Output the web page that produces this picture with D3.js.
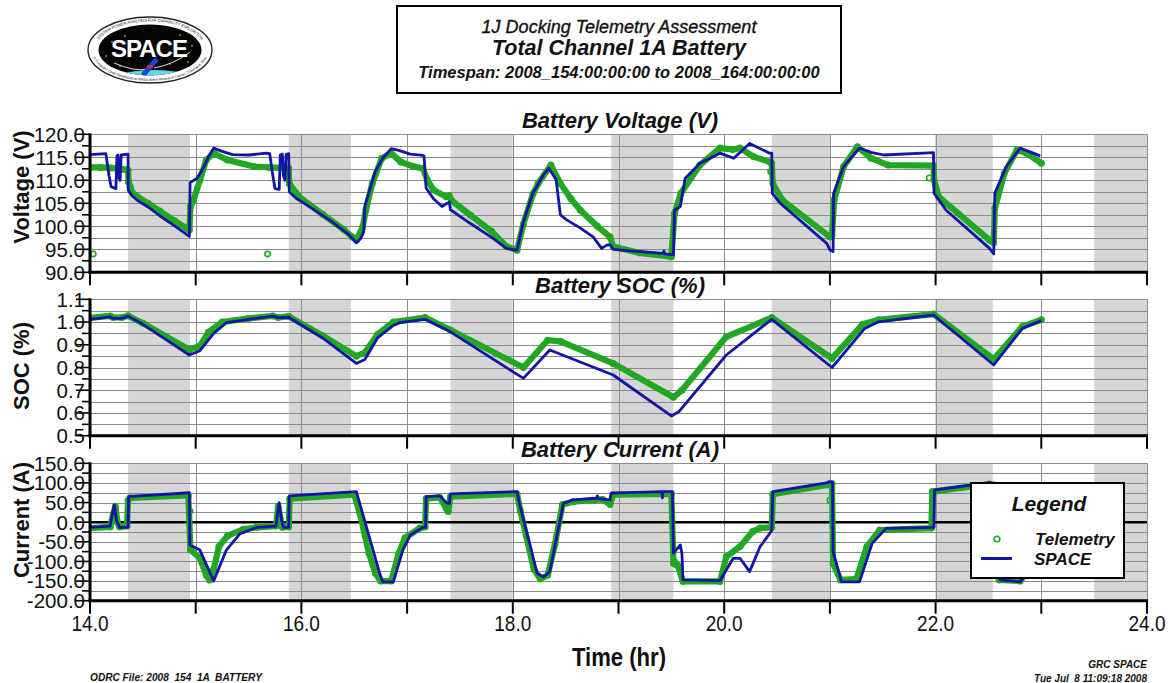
<!DOCTYPE html>
<html>
<head>
<meta charset="utf-8">
<script src="https://cdn.jsdelivr.net/npm/d3@7"></script>
<style>
  body { margin: 0; background: #fff; }
  svg { display: block; }
  text { font-family: "Liberation Sans", Arial, Helvetica, sans-serif; }
</style>
</head>
<body>
<svg id="chart" width="1169" height="683"></svg>
<script>
// ---- Orbit timeline (hours of day 154) ----
const hourTicks = [14, 15, 16, 17, 18, 19, 20, 21, 22, 23, 24];
const hourLabels = ["14.0", "16.0", "18.0", "20.0", "22.0", "24.0"];
const eclipseStart = [14.36, 15.88, 17.41, 18.93, 20.45, 21.995, 23.50];
const eclipseEnd   = [14.946, 16.47, 18.00, 19.52, 21.01, 22.54, 24.00];

// ---- Battery voltage (V) ----
const voltSpace = [
  [14.00,115.6],[14.15,115.8],[14.18,111.0],[14.20,108.6],[14.245,108.2],[14.255,115.3],[14.265,115.5],
  [14.275,110.5],[14.285,110.0],[14.295,115.5],[14.36,115.7],[14.362,107.8],[14.40,106.6],
  [14.45,105.6],[14.55,104.2],[14.66,102.3],[14.80,100.1],[14.94,97.8],[14.947,109.5],[15.01,110.4],
  [15.07,112.6],[15.12,115.1],[15.17,117.0],[15.25,116.3],[15.35,115.6],[15.50,115.5],[15.67,115.9],
  [15.70,115.8],[15.73,111.0],[15.75,108.2],[15.79,108.0],[15.80,115.5],[15.82,115.7],
  [15.83,111.0],[15.845,110.0],[15.855,115.6],[15.88,115.8],[15.885,107.5],[15.95,106.1],[16.10,103.9],
  [16.30,100.8],[16.45,98.2],[16.52,96.4],[16.56,97.3],[16.59,98.8],[16.60,104.4],[16.70,112.0],
  [16.77,114.8],[16.85,116.9],[16.92,116.5],[17.03,115.7],[17.15,115.4],[17.16,115.3],[17.18,108.3],
  [17.25,106.0],[17.33,104.3],[17.38,105.0],[17.40,105.3],[17.41,103.6],[17.60,100.6],[17.80,97.6],
  [17.94,95.2],[18.04,94.8],[18.10,101.0],[18.19,107.2],[18.29,111.2],[18.34,112.6],[18.41,110.1],
  [18.45,102.5],[18.51,101.4],[18.64,99.6],[18.76,97.7],[18.84,95.2],[18.89,95.9],[18.92,96.0],
  [18.95,95.0],[19.20,94.5],[19.42,94.1],[19.43,94.6],[19.44,94.0],[19.52,93.8],[19.53,103.5],
  [19.585,104.3],[19.63,110.4],[19.77,113.7],[19.96,115.9],[20.09,114.8],[20.24,118.0],[20.43,115.9],
  [20.45,115.9],[20.455,107.2],[20.53,105.0],[20.97,96.3],[21.00,94.9],[21.03,94.5],[21.035,107.2],
  [21.13,113.0],[21.28,117.0],[21.40,116.0],[21.51,115.5],[21.98,116.0],[21.985,107.2],[22.10,103.5],
  [22.51,95.2],[22.55,94.0],[22.56,107.2],[22.67,113.0],[22.80,117.0],[22.99,115.3]
];
const voltTlm = [
  [14.00,112.8],[14.10,112.8],[14.20,112.7],[14.25,112.6],[14.30,112.4],[14.34,112.3],[14.36,112.2],
  [14.365,109.7],[14.38,108.6],[14.40,107.3],[14.45,106.4],[14.55,105.0],[14.66,103.3],[14.80,101.2],
  [14.92,99.5],[14.94,99.2],[14.95,104.3],[14.98,105.7],[15.04,110.1],[15.10,114.4],[15.17,115.9],
  [15.30,114.4],[15.55,113.0],[15.70,112.8],[15.88,112.6],[15.885,109.3],[15.98,106.4],[16.20,102.6],
  [16.40,99.3],[16.48,97.7],[16.52,97.0],[16.58,99.9],[16.61,103.5],[16.67,109.3],[16.76,114.8],
  [16.85,115.9],[16.94,114.0],[17.06,113.0],[17.15,112.6],[17.19,110.1],[17.25,107.9],[17.37,106.4],
  [17.40,106.6],[17.42,105.6],[17.60,102.4],[17.80,98.9],[17.94,95.6],[18.04,94.8],[18.10,100.5],
  [18.19,107.0],[18.24,109.3],[18.36,113.3],[18.45,109.3],[18.55,106.0],[18.64,103.5],[18.80,100.0],
  [18.92,97.7],[18.95,95.6],[19.20,94.2],[19.50,93.4],[19.53,102.8],[19.59,107.2],[19.77,113.3],
  [19.96,117.0],[20.08,116.7],[20.15,117.0],[20.28,115.1],[20.43,114.0],[20.45,113.7],[20.46,109.3],
  [20.55,105.7],[21.00,97.7],[21.02,98.0],[21.04,105.7],[21.13,113.0],[21.26,117.3],[21.39,114.8],
  [21.55,113.3],[21.98,113.2],[21.985,110.1],[22.03,106.4],[22.51,97.0],[22.55,96.4],[22.56,103.9],
  [22.65,111.5],[22.77,116.6],[22.86,115.9],[23.00,113.7]
];
const voltTlmStray = [[14.03,94.0],[15.68,94.0],[20.44,111.9],[21.94,110.5]];

// ---- Battery state of charge ----
const socSpace = [
  [14.00,1.012],[14.19,1.023],[14.22,1.016],[14.30,1.016],[14.36,1.026],[14.50,0.990],[14.94,0.855],
  [15.04,0.874],[15.17,0.950],[15.29,0.997],[15.50,1.012],[15.73,1.026],[15.78,1.019],[15.88,1.021],
  [16.20,0.930],[16.52,0.818],[16.60,0.835],[16.72,0.930],[16.87,0.985],[16.93,0.997],[17.17,1.012],
  [17.41,0.957],[18.10,0.752],[18.35,0.877],[18.95,0.767],[19.50,0.587],[19.57,0.605],[20.02,0.855],
  [20.45,1.012],[21.02,0.800],[21.33,0.972],[21.46,1.001],[21.98,1.031],[22.55,0.811],[22.82,0.972],
  [23.00,1.006]
];
const socTlm = [
  [14.00,1.018],[14.19,1.027],[14.22,1.020],[14.30,1.020],[14.36,1.028],[14.50,0.995],[14.94,0.878],
  [15.04,0.895],[15.12,0.955],[15.25,1.000],[15.50,1.016],[15.73,1.027],[15.78,1.020],[15.88,1.025],
  [16.20,0.940],[16.52,0.850],[16.60,0.865],[16.72,0.945],[16.87,1.000],[17.17,1.020],[17.41,0.965],
  [18.10,0.800],[18.33,0.920],[18.45,0.915],[18.95,0.818],[19.52,0.669],[19.60,0.700],[20.02,0.935],
  [20.45,1.020],[21.02,0.840],[21.31,0.990],[21.46,1.010],[21.98,1.035],[22.55,0.836],[22.82,0.980],
  [23.00,1.010]
];

// ---- Battery current (A) ----
const curSpace = [
  [14.00,-13],[14.19,-10],[14.21,20],[14.23,44],[14.25,5],[14.28,-13],[14.36,-13],[14.365,65],
  [14.94,75],[14.945,-58],[15.04,-71],[15.17,-150],[15.29,-71],[15.42,-29],[15.58,-13],[15.76,-10],
  [15.775,25],[15.79,50],[15.81,8],[15.83,-13],[15.88,-13],[15.885,67],[16.52,78],[16.74,-130],
  [16.77,-152],[16.87,-152],[16.96,-71],[17.03,-33],[17.15,-13],[17.175,-13],[17.18,65],[17.31,67],
  [17.37,50],[17.40,48],[17.41,72],[18.04,78],[18.07,40],[18.23,-130],[18.29,-140],[18.35,-126],
  [18.41,-45],[18.48,48],[18.57,57],[18.79,61],[18.80,67],[18.81,60],[18.92,57],[18.93,74],
  [19.41,78],[19.415,62],[19.42,78],[19.51,78],[19.52,-79],[19.585,-58],[19.60,-80],[19.61,-147],
  [19.96,-149],[20.085,-92],[20.15,-92],[20.24,-126],[20.34,-62],[20.43,-29],[20.45,-21],[20.46,78],
  [20.97,100],[20.99,103],[21.025,102],[21.03,-75],[21.11,-152],[21.28,-152],[21.40,-54],[21.53,-16],
  [21.985,-13],[21.99,82],[22.51,101],[22.55,98],[22.61,-147],[22.80,-152],[22.95,-100],[23.00,-60]
];
const curTlm = [
  [14.00,-15],[14.19,-12],[14.22,20],[14.24,40],[14.26,0],[14.28,-12],[14.35,-10],[14.36,55],
  [14.38,62],[14.93,68],[14.95,-70],[15.04,-92],[15.10,-135],[15.13,-147],[15.17,-120],[15.22,-62],
  [15.30,-35],[15.45,-18],[15.58,-13],[15.76,-10],[15.78,40],[15.80,10],[15.82,-13],[15.88,-12],
  [15.89,60],[16.50,70],[16.55,25],[16.64,-80],[16.70,-130],[16.75,-150],[16.85,-150],[16.92,-80],
  [16.98,-40],[17.12,-15],[17.17,-12],[17.18,60],[17.31,63],[17.37,35],[17.39,27],[17.41,65],
  [18.04,72],[18.07,30],[18.20,-120],[18.26,-145],[18.33,-135],[18.40,-55],[18.47,45],[18.57,52],
  [18.76,56],[18.85,58],[18.92,45],[18.95,70],[19.50,72],[19.52,-105],[19.56,-110],[19.61,-151],
  [19.96,-151],[20.02,-88],[20.15,-62],[20.27,-24],[20.34,-15],[20.45,-13],[20.46,71],[20.97,95],
  [21.02,98],[21.03,-105],[21.10,-147],[21.25,-145],[21.35,-62],[21.47,-20],[21.96,-15],[21.97,78],
  [22.51,97],[22.55,95],[22.60,-147],[22.80,-150],[22.95,-95],[23.00,-55]
];
const curTlmStray = [[14.945,28],[21.00,56],[19.53,-100],[19.545,-108],[22.555,50]];

// ---- Chart setup ----
const GREEN = "#22a722";
const BLUE = "#1414a8";
const svg = d3.select("#chart");
const x = d3.scaleLinear().domain([14, 24]).range([90, 1147]);

const panels = [
  { key: "volt", title: "Battery Voltage (V)", ylabel: "Voltage (V)", domain: [90, 120],
    top: 134.3, bottom: 272.3, minor: 2.5, titleY: 128, ylabelY: 187,
    space: voltSpace, tlm: voltTlm, stray: voltTlmStray },
  { key: "soc", title: "Battery SOC (%)", ylabel: "SOC (%)", domain: [0.5, 1.1],
    top: 299.3, bottom: 435.7, minor: 0.05, titleY: 293, ylabelY: 366,
    space: socSpace, tlm: socTlm, stray: [] },
  { key: "cur", title: "Battery Current (A)", ylabel: "Current (A)", domain: [-200, 150],
    top: 463.3, bottom: 600.7, minor: 25, titleY: 457, ylabelY: 520,
    space: curSpace, tlm: curTlm, stray: curTlmStray, zeroLine: true }
];

const defs = svg.append("defs");

panels.forEach(p => {
  const y = d3.scaleLinear().domain(p.domain).range([p.bottom, p.top]);
  const g = svg.append("g").attr("class", "panel-" + p.key);
  const clipId = "clip-" + p.key;
  defs.append("clipPath").attr("id", clipId).append("rect")
    .attr("x", x(14)).attr("y", p.top - 2)
    .attr("width", x(24) - x(14)).attr("height", p.bottom - p.top + 2);

  // eclipse shading
  g.selectAll("rect.eclipse")
    .data(eclipseStart.map((s, i) => [s, eclipseEnd[i]]))
    .join("rect")
    .attr("class", "eclipse")
    .attr("x", d => x(d[0])).attr("width", d => x(d[1]) - x(d[0]))
    .attr("y", p.top).attr("height", p.bottom - p.top)
    .attr("fill", "#d6d6d6");

  // horizontal grid at every minor step
  const n = Math.round((p.domain[1] - p.domain[0]) / p.minor);
  const yVals = d3.range(n + 1).map(i => p.domain[0] + i * p.minor);
  g.selectAll("line.hgrid").data(yVals.slice(1)).join("line")
    .attr("class", "hgrid")
    .attr("x1", x(14)).attr("x2", x(24))
    .attr("y1", d => Math.round(y(d)) + 0.5).attr("y2", d => Math.round(y(d)) + 0.5)
    .attr("stroke", "#8a8a8a").attr("stroke-width", 1);

  // vertical grid at every hour
  g.selectAll("line.vgrid").data(hourTicks.slice(1)).join("line")
    .attr("class", "vgrid")
    .attr("x1", d => Math.round(x(d)) + 0.5).attr("x2", d => Math.round(x(d)) + 0.5)
    .attr("y1", p.top).attr("y2", p.bottom)
    .attr("stroke", "#8f8f8f").attr("stroke-width", 1);

  if (p.zeroLine) {
    g.append("line")
      .attr("x1", x(14)).attr("x2", x(24))
      .attr("y1", y(0)).attr("y2", y(0))
      .attr("stroke", "#000").attr("stroke-width", 2.6);
  }

  // series
  const line = d3.line().x(d => x(d[0])).y(d => y(d[1]));
  const dg = g.append("g").attr("clip-path", `url(#${clipId})`);
  dg.append("path").datum(p.tlm)
    .attr("d", line).attr("fill", "none")
    .attr("stroke", GREEN).attr("stroke-width", 6.2)
    .attr("stroke-linejoin", "round").attr("stroke-linecap", "round");
  dg.selectAll("circle.tlm").data(p.tlm.concat(p.stray)).join("circle")
    .attr("class", "tlm")
    .attr("cx", d => x(d[0])).attr("cy", d => y(d[1])).attr("r", 2.7)
    .attr("fill", "none").attr("stroke", GREEN).attr("stroke-width", 1.6);
  dg.append("path").datum(p.space)
    .attr("d", line).attr("fill", "none")
    .attr("stroke", BLUE).attr("stroke-width", 2.8)
    .attr("stroke-linejoin", "round");

  // left axis with major / minor ticks
  g.selectAll("line.ytick").data(yVals).join("line")
    .attr("class", "ytick")
    .attr("x1", (d, i) => i % 2 === 0 ? 76 : 82).attr("x2", 90)
    .attr("y1", d => y(d)).attr("y2", d => y(d))
    .attr("stroke", "#000").attr("stroke-width", 1.6);
  g.selectAll("text.ylab").data(yVals.filter((d, i) => i % 2 === 0)).join("text")
    .attr("class", "ylab")
    .attr("x", 85).attr("y", d => y(d)).attr("dy", "0.36em")
    .attr("text-anchor", "end").attr("font-size", 20.5).attr("fill", "#111")
    .text(d => d.toFixed(1));
  g.append("line")
    .attr("x1", 90).attr("x2", 90).attr("y1", p.top - 1).attr("y2", p.bottom + 1.5)
    .attr("stroke", "#000").attr("stroke-width", 3);

  // bottom axis with hour ticks
  g.append("line")
    .attr("x1", 88.5).attr("x2", x(24) + 1).attr("y1", p.bottom).attr("y2", p.bottom)
    .attr("stroke", "#000").attr("stroke-width", 3);
  g.selectAll("line.xtick").data(hourTicks).join("line")
    .attr("class", "xtick")
    .attr("x1", d => x(d)).attr("x2", d => x(d))
    .attr("y1", p.bottom).attr("y2", p.bottom + 13)
    .attr("stroke", "#000").attr("stroke-width", 2);

  // titles
  svg.append("text")
    .attr("x", 620).attr("y", p.titleY)
    .attr("text-anchor", "middle").attr("font-size", 22)
    .attr("font-weight", "bold").attr("font-style", "italic").attr("fill", "#111")
    .text(p.title);
  svg.append("text")
    .attr("transform", `translate(21,${p.ylabelY}) rotate(-90)`)
    .attr("text-anchor", "middle").attr("dy", "0.36em")
    .attr("font-size", 22).attr("font-weight", "bold").attr("fill", "#111")
    .text(p.ylabel);
});

// hour labels under the bottom panel
svg.selectAll("text.xlab").data(hourLabels).join("text")
  .attr("class", "xlab")
  .attr("x", d => x(+d)).attr("y", 631)
  .attr("text-anchor", "middle").attr("font-size", 22)
  .attr("textLength", 37).attr("lengthAdjust", "spacingAndGlyphs")
  .attr("fill", "#111")
  .text(d => d);
svg.append("text")
  .attr("x", 619).attr("y", 666).attr("text-anchor", "middle")
  .attr("font-size", 25).attr("font-weight", "bold")
  .attr("textLength", 94).attr("lengthAdjust", "spacingAndGlyphs")
  .attr("fill", "#111").text("Time (hr)");

// header box
svg.append("rect").attr("x", 397).attr("y", 6).attr("width", 444).attr("height", 87)
  .attr("fill", "#fff").attr("stroke", "#000").attr("stroke-width", 2);
svg.append("text").attr("x", 619).attr("y", 33).attr("text-anchor", "middle")
  .attr("font-size", 18).attr("font-style", "italic").attr("fill", "#111")
  .attr("stroke", "#111").attr("stroke-width", 0.35)
  .text("1J Docking Telemetry Assessment");
svg.append("text").attr("x", 619).attr("y", 55).attr("text-anchor", "middle")
  .attr("font-size", 21.5).attr("font-style", "italic").attr("font-weight", "bold").attr("fill", "#111")
  .text("Total Channel 1A Battery");
svg.append("text").attr("x", 619).attr("y", 78).attr("text-anchor", "middle")
  .attr("font-size", 16.5).attr("font-style", "italic").attr("font-weight", "bold").attr("fill", "#111")
  .text("Timespan: 2008_154:00:00:00 to 2008_164:00:00:00");

// SPACE emblem
const logo = svg.append("g").attr("transform", "translate(150,50)");
logo.append("ellipse").attr("rx", 62).attr("ry", 33)
  .attr("fill", "#fff").attr("stroke", "#222").attr("stroke-width", 1.4);
logo.append("ellipse").attr("rx", 51.5).attr("ry", 25.5).attr("fill", "#050505");
defs.append("clipPath").attr("id", "logo-clip").append("ellipse")
  .attr("cx", 150).attr("cy", 50).attr("rx", 51.5).attr("ry", 25.5);
const inner = svg.append("g").attr("clip-path", "url(#logo-clip)")
  .append("g").attr("transform", "translate(150,50)");
inner.append("ellipse").attr("cx", 4).attr("cy", 44).attr("rx", 60).attr("ry", 24).attr("fill", "#5fd9e6");
[[-38,-8],[-25,-14],[30,-15],[42,-4],[-44,6],[20,14],[38,12],[-30,16]].forEach(s =>
  inner.append("circle").attr("cx", s[0]).attr("cy", s[1]).attr("r", 0.7).attr("fill", "#fff"));
inner.append("path").attr("d", "M-36,13 Q-15,22 -2,19 M4,18 Q25,14 40,2")
  .attr("fill", "none").attr("stroke", "#ddd").attr("stroke-width", 1);
inner.append("rect").attr("x", -2.5).attr("y", 6).attr("width", 5).attr("height", 22)
  .attr("fill", "#1f3fd8").attr("transform", "rotate(40,0,17)");
inner.append("rect").attr("x", -3).attr("y", 15).attr("width", 6).attr("height", 3).attr("fill", "#c03030");
inner.append("text").attr("x", -1).attr("y", 7).attr("text-anchor", "middle")
  .attr("font-family", "DejaVu Sans, sans-serif").attr("font-size", 24).attr("font-weight", "bold")
  .attr("letter-spacing", -1).attr("fill", "#fff").text("SPACE");
defs.append("path").attr("id", "logo-top").attr("d", "M-55,0 A55,28.5 0 1,1 55,0");
defs.append("path").attr("id", "logo-bot").attr("d", "M-58.5,0 A58.5,31 0 0,0 58.5,0");
logo.append("text").attr("font-size", 4).attr("fill", "#111")
  .append("textPath").attr("href", "#logo-top").attr("startOffset", "50%").attr("text-anchor", "middle")
  .text("SYSTEM POWER ANALYSIS FOR CAPABILITY EVALUATION");
logo.append("text").attr("font-size", 3.6).attr("fill", "#111")
  .append("textPath").attr("href", "#logo-bot").attr("startOffset", "50%").attr("text-anchor", "middle")
  .text("A Computer Code Developed at NASA Glenn Research Center, Cleveland, Ohio");

// legend
const lg = svg.append("g");
lg.append("rect").attr("x", 971).attr("y", 483).attr("width", 153).attr("height", 95)
  .attr("fill", "#fff").attr("stroke", "#000").attr("stroke-width", 2);
lg.append("text").attr("x", 1049).attr("y", 511).attr("text-anchor", "middle")
  .attr("font-size", 21).attr("font-weight", "bold").attr("font-style", "italic").attr("fill", "#111")
  .text("Legend");
lg.append("circle").attr("cx", 997).attr("cy", 539).attr("r", 2.8)
  .attr("fill", "none").attr("stroke", GREEN).attr("stroke-width", 1.6);
lg.append("line").attr("x1", 981).attr("x2", 1012).attr("y1", 558.5).attr("y2", 558.5)
  .attr("stroke", BLUE).attr("stroke-width", 3);
lg.append("text").attr("x", 1035).attr("y", 545)
  .attr("font-size", 17).attr("font-weight", "bold").attr("font-style", "italic").attr("fill", "#111")
  .text("Telemetry");
lg.append("text").attr("x", 1034).attr("y", 565)
  .attr("font-size", 17).attr("font-weight", "bold").attr("font-style", "italic").attr("fill", "#111")
  .text("SPACE");

// footer
svg.append("text").attr("x", 90).attr("y", 681)
  .attr("font-size", 10).attr("font-weight", "bold").attr("font-style", "italic")
  .attr("textLength", 172).attr("lengthAdjust", "spacingAndGlyphs")
  .style("white-space", "pre").attr("fill", "#111")
  .text("ODRC File: 2008  154  1A  BATTERY");
svg.append("text").attr("x", 1147).attr("y", 668).attr("text-anchor", "end")
  .attr("font-size", 10).attr("font-weight", "bold").attr("font-style", "italic").attr("fill", "#111")
  .text("GRC SPACE");
svg.append("text").attr("x", 1147).attr("y", 682).attr("text-anchor", "end")
  .attr("font-size", 10).attr("font-weight", "bold").attr("font-style", "italic")
  .style("white-space", "pre").attr("fill", "#111")
  .text("Tue Jul  8 11:09:18 2008");
</script>
</body>
</html>
